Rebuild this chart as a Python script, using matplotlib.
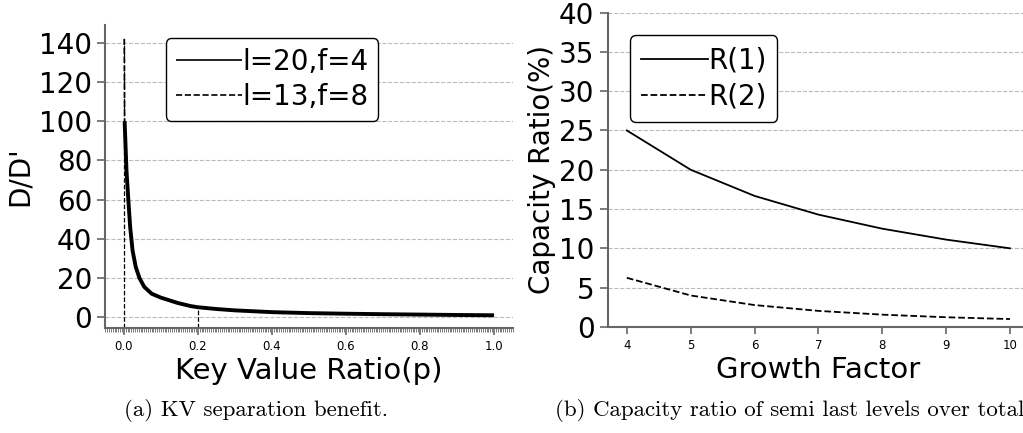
import numpy as np
import matplotlib
matplotlib.use("Agg")
import matplotlib.pyplot as plt
from matplotlib.ticker import MultipleLocator

# (a) KV separation benefit: D/D'
p_a = [0.002, 0.007, 0.012, 0.017, 0.0235, 0.032, 0.042, 0.055, 0.075, 0.1,
       0.12, 0.145, 0.18, 0.2, 0.25, 0.3, 0.4, 0.5, 0.6, 0.7, 0.8, 0.9, 1.0]
d_a = [100, 75, 60, 46, 34, 25.7, 20, 15.5, 12, 10,
       8.8, 7.3, 5.7, 5.1, 4.2, 3.5, 2.6, 2.1, 1.8, 1.55, 1.35, 1.15, 1.0]
p_b = [0.001, 0.002, 0.007, 0.012, 0.017, 0.0235, 0.032, 0.042, 0.055, 0.075, 0.1,
       0.12, 0.145, 0.18, 0.2, 0.25, 0.3, 0.4, 0.5, 0.6, 0.7, 0.8, 0.9, 1.0]
d_b = [142, 100, 75, 60, 46, 34, 25.7, 20, 15.5, 12, 10,
       8.8, 7.3, 5.7, 5.1, 4.2, 3.5, 2.6, 2.1, 1.8, 1.55, 1.35, 1.15, 1.0]
labels_a = ["l=20,f=4", "l=13,f=8"]
marked_p = [0.0, 0.2]
marked_d = [142, 5.1]

# (b) capacity ratio of semi last levels
growth = [4, 5, 6, 7, 8, 9, 10]
r1 = [25.0, 20.0, 16.67, 14.29, 12.5, 11.11, 10.0]
r2 = [6.25, 4.0, 2.78, 2.04, 1.56, 1.23, 1.0]
labels_b = ["R(1)", "R(2)"]

captions = ["(a) KV separation benefit.",
            "(b) Capacity ratio of semi last levels over total"]

BIG = 20
SPINE = "#666666"


def style_axes(ax):
    for s in ("top", "right"):
        ax.spines[s].set_visible(False)
    for s in ("left", "bottom"):
        ax.spines[s].set_color(SPINE)
        ax.spines[s].set_linewidth(1.5)
    ax.tick_params(axis="y", labelsize=BIG, color=SPINE, length=6, width=1.2)
    ax.tick_params(axis="x", labelsize=8.5, color=SPINE, length=5, width=1.2)
    ax.yaxis.grid(True, linestyle="--", color="#bbbbbb", linewidth=0.8)
    ax.set_axisbelow(True)


fig = plt.figure(figsize=(10.23, 4.33), dpi=100)

# left panel
ax1 = fig.add_axes([0.103, 0.242, 0.398, 0.700])
ax1.plot(p_a, d_a, color="black", lw=2.8, solid_capstyle="butt", label=labels_a[0])
ax1.plot(p_b, d_b, color="black", lw=1.2, ls="--", label=labels_a[1])
ax1.set_xlim(-0.05, 1.05)
ax1.set_ylim(-5.6, 149)
ax1.vlines(marked_p, -5.6, marked_d, colors="black", linestyles="--", lw=0.9)
ax1.set_xticks([0.0, 0.2, 0.4, 0.6, 0.8, 1.0])
ax1.xaxis.set_minor_locator(MultipleLocator(0.005))
ax1.tick_params(axis="x", which="minor", length=3, color=SPINE, width=0.6)
ax1.set_yticks(range(0, 141, 20))
style_axes(ax1)
ax1.set_xlabel("Key Value Ratio(p)", fontsize=21, labelpad=3)
ax1.set_ylabel("D/D'", fontsize=BIG, labelpad=4)
leg1 = ax1.legend(loc="upper left", bbox_to_anchor=(0.135, 0.975), fontsize=BIG,
                  frameon=True, edgecolor="black", framealpha=1, fancybox=True,
                  handlelength=2.4, handletextpad=0.0, borderpad=0.35, labelspacing=0.25,
                  borderaxespad=0.2)
for h in leg1.get_lines():
    h.set_linewidth(1.2)

# right panel
ax2 = fig.add_axes([0.594, 0.245, 0.412, 0.726])
ax2.plot(growth, r1, color="black", lw=1.3, label=labels_b[0])
ax2.plot(growth, r2, color="black", lw=1.3, ls="--", label=labels_b[1])
ax2.set_xlim(3.7, 10.3)
ax2.set_ylim(0, 40)
ax2.set_xticks(growth)
ax2.set_yticks(range(0, 41, 5))
style_axes(ax2)
ax2.set_xlabel("Growth Factor", fontsize=21, labelpad=3)
ax2.set_ylabel("Capacity Ratio(%)", fontsize=BIG, labelpad=2)
ax2.legend(loc="upper left", bbox_to_anchor=(0.04, 0.945), fontsize=BIG,
           frameon=True, edgecolor="black", framealpha=1, fancybox=True,
           handlelength=2.4, handletextpad=0.0, borderpad=0.4, labelspacing=0.3,
           borderaxespad=0.2)

fig.text(0.25, 0.04, captions[0], fontsize=16.5, family="cmr10", ha="center")
fig.text(0.543, 0.04, captions[1], fontsize=16.5, family="cmr10", ha="left")

fig.savefig("out.png", dpi=100)
